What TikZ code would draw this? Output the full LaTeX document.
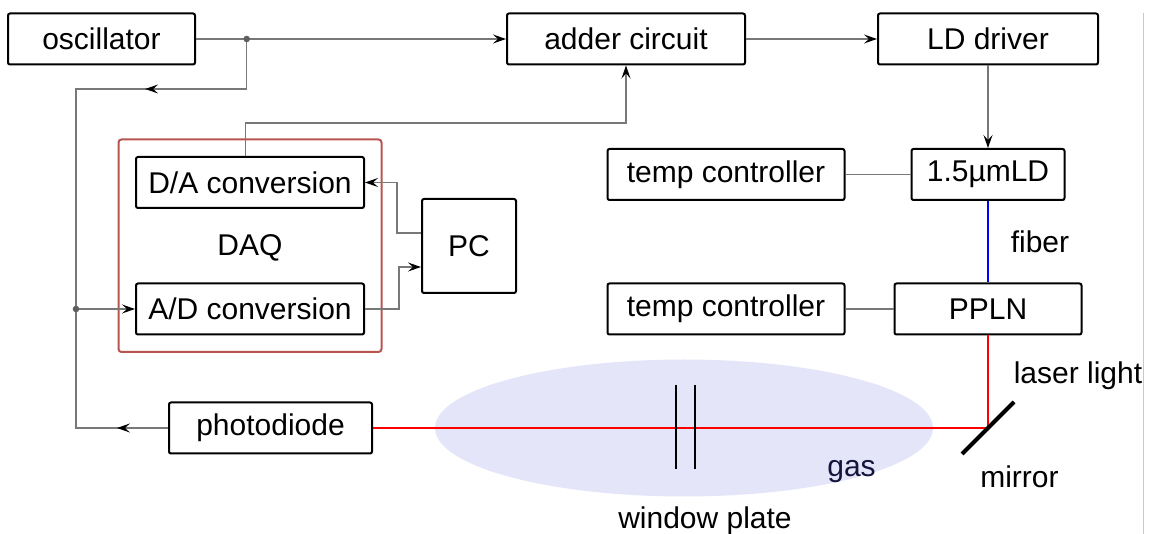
\documentclass[tikz,border=0pt]{standalone}
\usepackage{fontspec}
\setmainfont{Liberation Sans}
\usepackage{xcolor}
\usetikzlibrary{arrows.meta, positioning, fit, shapes.geometric, decorations.markings}

\definecolor{wiregray}{RGB}{120,120,120}
\definecolor{dotgray}{RGB}{95,95,95}
\definecolor{daqred}{RGB}{184,84,80}
\definecolor{gasfill}{RGB}{229,229,250}
\definecolor{gastext}{RGB}{20,20,60}
\definecolor{edgegray}{RGB}{200,200,200}
\definecolor{beamred}{RGB}{255,0,0}

\begin{document}
\begin{tikzpicture}[
  x=0.5pt, y=-0.5pt,
  on grid,
  font=\fontsize{15pt}{18pt}\selectfont,
  box/.style={draw, line width=1pt, rounded corners=1pt, minimum height=25.5pt, align=center},
  wire/.style={draw=wiregray, line width=0.7pt},
  arrow/.style={-{Stealth[length=6.5pt, width=4.5pt, inset=2.5pt, color=black]}},
  midarrow/.style={postaction={decorate}, decoration={markings,
      mark=at position #1 with {\arrow{Stealth[length=6.5pt, width=4.5pt, inset=2.5pt, color=black]}}}},
  daqbox/.style={draw=daqred, line width=1pt, rounded corners=1.5pt, inner sep=8.25pt},
  gasbox/.style={ellipse, fill=gasfill, inner sep=0pt, minimum width=249pt, minimum height=68.5pt},
  beam/.style={draw=beamred, line width=0.6pt},
  fiberline/.style={draw=blue, line width=0.6pt},
  plate/.style={line width=1pt},
  mirrorline/.style={line width=2pt}
]
\useasboundingbox (0,0) rectangle (1153,534);

% Nodes
\node[box, minimum width=93.5pt] (osc) at (101.5,39) {oscillator};
\node[box, minimum width=119pt, right=262.25pt of osc] (adder) {adder circuit};
\node[box, minimum width=110pt, right=181pt of adder] (lddrv) {LD driver};
\node[box, minimum width=76.5pt, below=67.75pt of lddrv] (ld) {1.5µmLD};
\node[box, minimum width=118.5pt, left=131pt of ld] (tc1) {temp controller};
\node[box, minimum width=93.5pt, below=67.25pt of ld] (ppln) {PPLN};
\node[box, minimum width=118.5pt, left=131pt of ppln] (tc2) {temp controller};

\node[box, minimum width=114pt, below right=71.75pt and 74.25pt of osc] (da) {D/A conversion};
\node[box, minimum width=114pt, below=63.25pt of da] (ad) {A/D conversion};
\node[below=32.75pt of da] (daqlabel) {DAQ};
\node[daqbox, fit=(da)(ad)] (daq) {};
\node[box, minimum width=47pt, minimum height=47pt, below right=31.75pt and 109.5pt of da] (pc) {PC};
\node[box, minimum width=101.5pt, below right=59.5pt and 10.25pt of ad] (pd) {photodiode};

% Optics
\node[gasbox, right=206.75pt of pd] (gas) {};
\coordinate (mirror) at (ppln.south |- pd.east);
\node[xshift=83.75pt, yshift=-21.75pt, text=gastext] (gaslabel) at (gas.center) {gas};
\node[xshift=10.5pt, yshift=-46.25pt] (platelabel) at (gas.center) {window plate};
\node[xshift=45pt, yshift=26pt] (laserlabel) at (mirror) {laser light};
\node[xshift=15.75pt, yshift=-24.5pt] (mirrorlabel) at (mirror) {mirror};

% Pointers
\coordinate (split) at ([xshift=25.35pt]osc.east);
\coordinate (tap) at ([xshift=-29.5pt]ad.west);
\draw[wire, arrow] (osc) -- (adder);
\draw[wire, arrow] (adder) -- (lddrv);
\draw[wire, arrow] (lddrv) -- (ld);
\draw[wire] (tc1) -- (ld);
\draw[wire] (tc2) -- (ppln);
\draw[wire, midarrow=0.344] (split) -- ++(0,-25pt) -| (tap);
\draw[wire, midarrow=0.242] (pd.west) -| (tap);
\draw[wire, arrow] (tap) -- (ad.west);
\fill[dotgray] (split) circle (1.65pt);
\fill[dotgray] (tap) circle (1.65pt);
\draw[wire, arrow] ([xshift=-2.15pt]da.north) -- ++(0,16.5pt) -| (adder);
\draw[wire, arrow] ([yshift=6.5pt]pc.west) -- ++(-12pt,0) |- (da);
\draw[wire, arrow] (ad.east) -- ++(17pt,0) |- ([yshift=-10.5pt]pc.west);

% Light path
\draw[fiberline] (ld) -- node[anchor=west, xshift=7.75pt] (fiberlabel) {fiber} (ppln);
\draw[beam] (ppln.south) -- (mirror) -- (pd.east);
\draw[plate] ([xshift=-4pt, yshift=21.25pt]gas.center) -- ++(0,-42pt);
\draw[plate] ([xshift=5.5pt, yshift=21.25pt]gas.center) -- ++(0,-42pt);
\draw[mirrorline] ([shift={(-13pt,-13pt)}]mirror) -- ([shift={(13pt,13pt)}]mirror);

\draw[edgegray, line width=0.5pt] (1143,13) -- (1143,534);
\end{tikzpicture}
\end{document}
